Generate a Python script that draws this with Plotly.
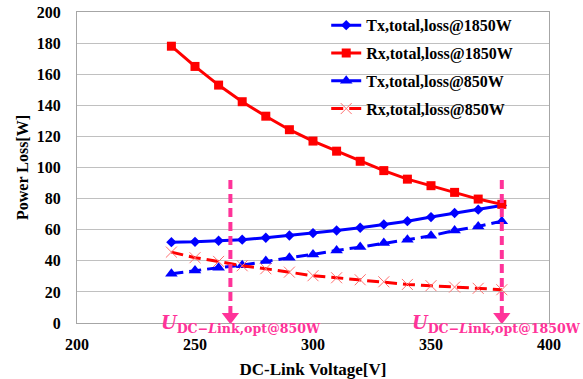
import plotly.graph_objects as go

voltage = [240, 250, 260, 270, 280, 290, 300, 310, 320, 330, 340, 350, 360, 370, 380]
tx_1850 = [52.0, 52.2, 52.9, 53.6, 54.8, 56.3, 57.8, 59.5, 61.3, 63.4, 65.5, 68.1, 70.7, 72.9, 75.6]
rx_1850 = [178.0, 165.0, 153.0, 142.3, 133.0, 124.3, 117.0, 110.5, 104.0, 98.0, 92.5, 88.3, 84.0, 79.7, 76.3]
tx_850 = [31.7, 33.8, 35.6, 37.2, 39.8, 42.0, 44.1, 46.7, 48.8, 51.4, 53.6, 56.1, 59.5, 62.1, 65.5]
rx_850 = [45.6, 42.0, 39.6, 36.8, 34.9, 32.7, 30.4, 29.1, 27.8, 26.5, 24.8, 24.0, 23.1, 22.3, 21.4]

opt_voltage = [265, 380]
opt_labels = ["opt@850W", "opt@1850W"]
x_ticks = [200, 250, 300, 350, 400]
y_ticks = [0, 20, 40, 60, 80, 100, 120, 140, 160, 180, 200]

PINK = "#FF3399"
SERIF = "Liberation Serif, Times New Roman, serif"

fig = go.Figure()
fig.add_trace(go.Scatter(x=voltage, y=tx_1850, name="Tx,total,loss@1850W", mode="lines+markers",
                         line=dict(color="#0000FF", width=3),
                         marker=dict(symbol="diamond", size=8, color="#0000FF"), legendgroup="a"))
fig.add_trace(go.Scatter(x=voltage, y=rx_1850, name="Rx,total,loss@1850W", mode="lines+markers",
                         line=dict(color="#FF0000", width=3),
                         marker=dict(symbol="square", size=9, color="#FF0000"), legendgroup="b"))
fig.add_trace(go.Scatter(x=voltage, y=tx_850, name="Tx,total,loss@850W", mode="lines+markers",
                         line=dict(color="#0000FF", width=3, dash="12px,6px"),
                         marker=dict(symbol="triangle-up", size=11, color="#0000FF"), legendgroup="c"))
fig.add_trace(go.Scatter(x=voltage, y=rx_850, name="Rx,total,loss@850W", mode="lines+markers",
                         line=dict(color="#FF0000", width=3, dash="12px,6px"),
                         marker=dict(symbol="x-thin-open", size=11, color="#FF7070",
                                     line=dict(color="#FF7070", width=1)), legendgroup="d"))

# dashed vertical arrows marking optimum voltages
for v in opt_voltage:
    fig.add_shape(type="line", x0=v, x1=v, y0=92, y1=6, xref="x", yref="y",
                  line=dict(color=PINK, width=4, dash="9px,5px"))
fig.add_trace(go.Scatter(x=opt_voltage, y=[4.0, 4.0], mode="markers", showlegend=False,
                         marker=dict(symbol="triangle-down", size=15, color=PINK),
                         cliponaxis=False, hoverinfo="skip"))

label_x = [234.7, 341.0]
for lx, lab in zip(label_x, opt_labels):
    fig.add_annotation(x=lx, y=-0.003, xref="x", yref="paper", xanchor="left", yanchor="middle",
                       showarrow=False,
                       text="<b><i>U</i></b><sub><b>DC\u2212<i>L</i>ink," + lab + "</b></sub>",
                       font=dict(family="DejaVu Serif", size=18, color=PINK))

fig.update_layout(
    width=583, height=379,
    margin=dict(l=77, r=34, t=12, b=56, autoexpand=False),
    paper_bgcolor="white", plot_bgcolor="white",
    font=dict(family=SERIF, size=16, color="black"),
    showlegend=True,
    legend=dict(x=0.528, y=1.012, xanchor="left", yanchor="top", bgcolor="rgba(0,0,0,0)",
                font=dict(family=SERIF, size=16, color="black", weight="bold"),
                tracegroupgap=4, itemwidth=30),
    xaxis=dict(range=[200, 400], tickvals=x_ticks, ticktext=["<b>%d</b>" % t for t in x_ticks],
               showgrid=False, zeroline=False, automargin=False,
               showline=True, linecolor="#A6A6A6", linewidth=1, mirror=True,
               ticks="", ticklabelstandoff=7, tickfont=dict(family=SERIF, size=16),
               title=dict(text="<b>DC-Link Voltage[V]</b>", font=dict(family=SERIF, size=17), standoff=13)),
    yaxis=dict(range=[0, 200], tickvals=y_ticks, ticktext=["<b>%d</b>" % t for t in y_ticks],
               showgrid=True, gridcolor="#C0C0C0", gridwidth=1, automargin=False,
               zeroline=False, showline=True, linecolor="#A6A6A6", linewidth=1, mirror=True,
               ticks="", ticklabelstandoff=12, tickfont=dict(family=SERIF, size=16),
               title=dict(text="<b>Power Loss[W]</b>", font=dict(family=SERIF, size=16), standoff=4)),
)

fig.write_html("out.html")
